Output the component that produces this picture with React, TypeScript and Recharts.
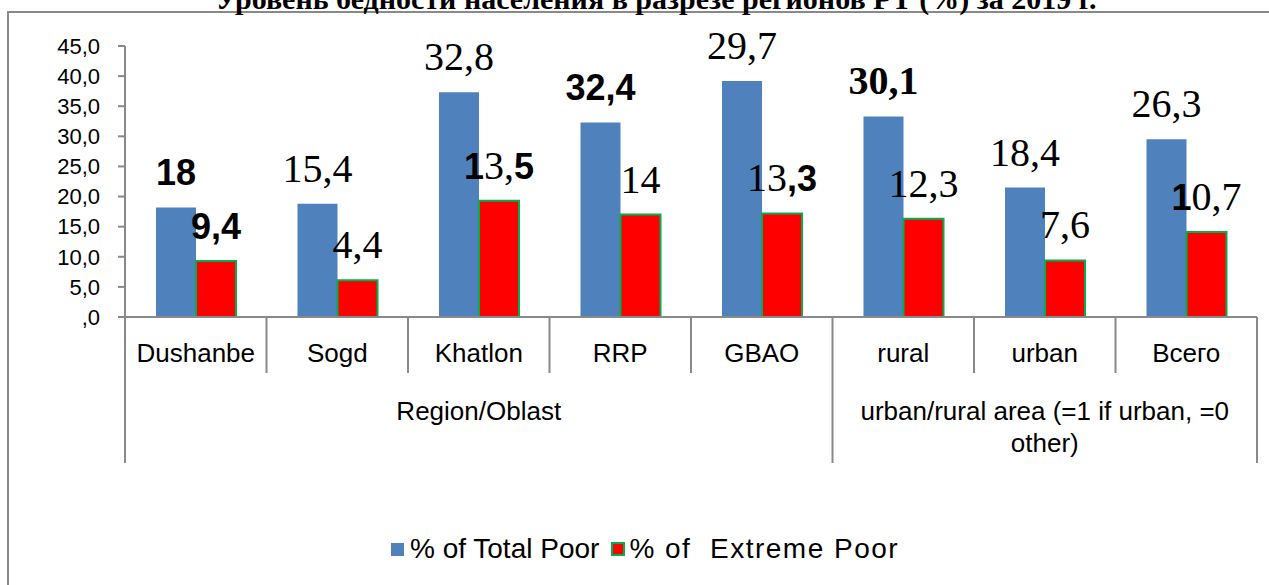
import { Bar, BarChart, LabelList, XAxis, YAxis } from "recharts";

const CATEGORIES = ["Dushanbe", "Sogd", "Khatlon", "RRP", "GBAO", "rural", "urban", "Всего"];
const TOTAL_POOR = [18.2, 18.8, 37.3, 32.3, 39.2, 33.3, 21.5, 29.5];
const EXTREME_POOR = [9.3, 6.1, 19.3, 17.0, 17.2, 16.3, 9.4, 14.1];
// '*' toggles bold sans, '#' toggles bold serif
const TOTAL_LABELS = ["*18*", "15,4", "32,8", "*32,4*", "29,7", "#30,1#", "18,4", "26,3"];
const EXTREME_LABELS = ["*9,4*", "4,4", "*1*3,*5*", "14", "13*,3*", "12,3", "7,6", "*1*0,7"];
const GROUP_STARTS = [0, 5];
const GROUP_CENTERS = [2, 6];
const GROUP_LINES = [["Region/Oblast"], ["urban/rural area (=1 if urban, =0", "other)"]];
const Y_TICKS = [0, 5, 10, 15, 20, 25, 30, 35, 40, 45];
const TITLE = "Уровень бедности населения в разрезе регионов РТ (%) за 2019 г.";

const data = CATEGORIES.map((name, i) => ({
  name,
  total: TOTAL_POOR[i],
  extreme: EXTREME_POOR[i],
}));

const W = 1269;
const H = 585;
const MARGIN = { top: 46, right: 12, left: 25, bottom: 108 };
const Y_WIDTH = 100;
const BAND = (W - MARGIN.left - Y_WIDTH - MARGIN.right) / CATEGORIES.length;
const AXIS = "#898989";
const SANS = "'Liberation Sans', Arial, sans-serif";
const SERIF = "'Liberation Serif', 'Times New Roman', serif";

const parseLabel = (s: string) => {
  const segs: { text: string; mode: string }[] = [];
  let mode = "plain";
  let cur = "";
  for (const ch of s) {
    if (ch === "*" || ch === "#") {
      if (cur) segs.push({ text: cur, mode });
      cur = "";
      const m = ch === "*" ? "sans" : "serifBold";
      mode = mode === m ? "plain" : m;
    } else cur += ch;
  }
  if (cur) segs.push({ text: cur, mode });
  return segs;
};

const richLabel = (labels: string[]) => (props: any) => {
  const { x, y, width, index } = props;
  const segs = parseLabel(labels[index] ?? "");
  return (
    <text x={x + width / 2} y={y - 22} textAnchor="middle" fontSize={40} fontFamily={SERIF} fill="#000">
      {segs.map((s, k) =>
        s.mode === "sans" ? (
          <tspan key={k} fontFamily={SANS} fontWeight="bold" fontSize={36}>{s.text}</tspan>
        ) : s.mode === "serifBold" ? (
          <tspan key={k} fontWeight="bold">{s.text}</tspan>
        ) : (
          <tspan key={k}>{s.text}</tspan>
        )
      )}
    </text>
  );
};

const CategoryTick = (props: any) => {
  const { x, y, payload, index } = props;
  const i = index ?? payload?.index ?? CATEGORIES.indexOf(payload?.value);
  const left = x - BAND / 2;
  const isGroupStart = GROUP_STARTS.includes(i);
  const g = GROUP_CENTERS.indexOf(i);
  return (
    <g>
      <line x1={left} y1={y} x2={left} y2={y + (isGroupStart ? 146 : 56)} stroke={AXIS} strokeWidth={2} />
      {i === CATEGORIES.length - 1 && (
        <line x1={x + BAND / 2} y1={y} x2={x + BAND / 2} y2={y + 146} stroke={AXIS} strokeWidth={2} />
      )}
      <text x={x} y={y + 45} textAnchor="middle" fontSize={26} fontFamily={SANS} fill="#000">
        {payload.value}
      </text>
      {g >= 0 &&
        GROUP_LINES[g].map((line, k) => (
          <text key={k} x={x} y={y + 103 + k * 32} textAnchor="middle" fontSize={26} fontFamily={SANS} fill="#000">
            {line}
          </text>
        ))}
    </g>
  );
};

const fmtY = (v: number) => (v === 0 ? ",0" : v.toFixed(1).replace(".", ","));

export default function App() {
  return (
    <div style={{ position: "fixed", left: 0, top: 0, width: W, height: H, overflow: "hidden", background: "#fff" }}>
      <div
        style={{
          position: "absolute",
          left: 7,
          top: 11,
          width: 1400,
          height: 800,
          border: `2px solid ${AXIS}`,
        }}
      />
      <svg style={{ position: "absolute", left: 0, top: 0 }} width={W} height={20}>
        <text x={656} y={9} textAnchor="middle" fontSize={30} fontWeight="bold" fontFamily={SERIF} fill="#000">
          {TITLE}
        </text>
      </svg>
      <div style={{ position: "absolute", left: 0, top: 0 }}>
        <BarChart width={W} height={H} data={data} margin={MARGIN} barGap={0} barSize={40}>
          <XAxis
            dataKey="name"
            height={160}
            interval={0}
            tickLine={false}
            tickSize={0}
            tickMargin={0}
            axisLine={{ stroke: AXIS, strokeWidth: 2 }}
            tick={<CategoryTick />}
          />
          <YAxis
            width={Y_WIDTH}
            domain={[0, 45]}
            ticks={Y_TICKS}
            interval={0}
            tickFormatter={fmtY}
            tickSize={7}
            tickMargin={18}
            axisLine={{ stroke: AXIS, strokeWidth: 2 }}
            tickLine={{ stroke: AXIS, strokeWidth: 2 }}
            tick={{ fontSize: 22, fontFamily: SANS, fill: "#000" }}
          />
          <Bar dataKey="total" name="% of Total Poor" fill="#4f81bd" isAnimationActive={false}>
            <LabelList dataKey="total" content={richLabel(TOTAL_LABELS)} />
          </Bar>
          <Bar
            dataKey="extreme"
            name="% of  Extreme Poor"
            fill="#ff0000"
            stroke="#00b050"
            strokeWidth={2}
            isAnimationActive={false}
          >
            <LabelList dataKey="extreme" content={richLabel(EXTREME_LABELS)} />
          </Bar>
        </BarChart>
      </div>
      <div
        style={{
          position: "absolute",
          left: 391,
          top: 533,
          display: "flex",
          alignItems: "center",
          fontFamily: SANS,
          fontSize: 28,
          color: "#000",
          whiteSpace: "pre",
        }}
      >
        <span style={{ width: 13, height: 13, background: "#4f81bd", display: "inline-block" }} />
        <span style={{ marginLeft: 6 }}>% of Total Poor</span>
        <span
          style={{
            marginLeft: 12,
            width: 14,
            height: 14,
            boxSizing: "border-box",
            background: "#ff0000",
            border: "2px solid #00b050",
            display: "inline-block",
          }}
        />
        <span style={{ marginLeft: 4, letterSpacing: 1.5 }}>% of  Extreme Poor</span>
      </div>
    </div>
  );
}
